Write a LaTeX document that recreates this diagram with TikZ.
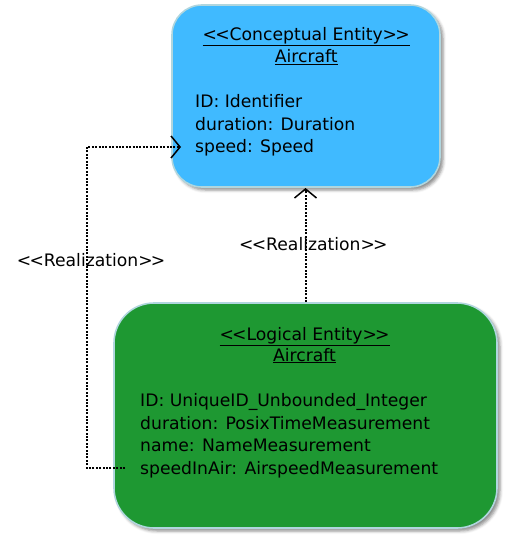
\documentclass[tikz,border=0pt]{standalone}
\usepackage{fontspec}
\setmainfont{DejaVu Sans}[Ligatures=TeXOff]
\usetikzlibrary{arrows.meta,shadows.blur}
\definecolor{cblue}{RGB}{64,186,255}
\definecolor{lgreen}{RGB}{30,152,50}
\definecolor{edgec}{RGB}{176,214,222}
\newcommand\opq{<\kern-1.8pt<}
\newcommand\clq{>\kern-1.8pt>}
\tikzset{
  entity/.style={draw=edgec, line width=1.6pt, inner sep=0pt,
    blur shadow={shadow xshift=3pt, shadow yshift=-3pt, shadow blur radius=3pt, shadow opacity=45}},
  txt/.style={inner sep=0pt, font=\fontsize{17.2}{20}\selectfont, text=black},
  attr/.style={txt, anchor=base west},
  ttl/.style={txt, anchor=base},
  realize/.style={line width=2pt, dash pattern=on 2pt off 1.4pt,
    -{Straight Barb[length=9pt,width=22pt,line width=1.5pt,sep=0pt]}},
  lbl/.style={txt, anchor=base west}
}
\begin{document}
\begin{tikzpicture}[x=1pt,y=-1pt]
\useasboundingbox (0,0) rectangle (510,543);
% boxes
\node[entity, fill=cblue, rounded corners=30pt, minimum width=268pt, minimum height=182pt] (ce) at (306,96) {};
\node[entity, fill=lgreen, rounded corners=40pt, minimum width=383pt, minimum height=225pt] (ge) at (305.5,415.5) {};
% conceptual texts
\node[ttl] (ct1) at (306.2,40.7) {\underline{\opq Conceptual Entity\clq}};
\node[ttl] (ct2) at (306.2,62.7) {\underline{Aircraft}};
\node[attr] (ca1) at (195,107.3) {ID: Identifier};
\node[attr] (ca2) at (195,130) {duration: Duration};
\node[attr] (ca3) at (195,152.7) {speed: Speed};
% logical texts
\node[ttl] (lt1) at (304.5,340) {\underline{\opq Logical Entity\clq}};
\node[ttl] (lt2) at (304.5,361) {\underline{Aircraft}};
\node[attr] (la1) at (140,406.7) {ID: UniqueID\_Unbounded\_Integer};
\node[attr] (la2) at (140,429.3) {duration: PosixTimeMeasurement};
\node[attr] (la3) at (140,451.7) {name: NameMeasurement};
\node[attr] (la4) at (140,474.3) {speedInAir: AirspeedMeasurement};
% connectors
\coordinate (s1) at (125,468);
\coordinate (k1) at (87,468);
\coordinate (k2) at (87,147);
\coordinate (e1) at (181,147);
\draw[realize] (s1) -- (k1) -- (k2) -- (e1);
\coordinate (e2) at (305.5,188);
\draw[realize] (ge.north) -- (e2);
% labels
\node[lbl] (r1) at (16.7,266.7) {\opq Realization\clq};
\node[lbl] (r2) at (239,250.7) {\opq Realization\clq};
\end{tikzpicture}
\end{document}
